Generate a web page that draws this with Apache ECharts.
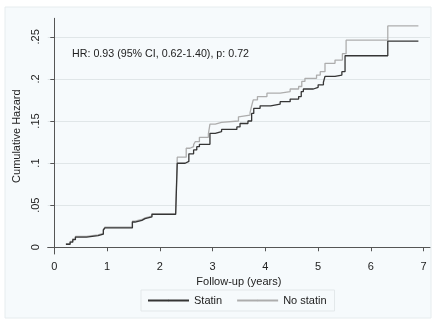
<!DOCTYPE html>
<html>
<head>
<meta charset="utf-8">
<script src="https://cdn.jsdelivr.net/npm/echarts@6/dist/echarts.min.js"></script>
<style>
  html, body { margin: 0; padding: 0; background: #ffffff; }
  #main { width: 436px; height: 323px; }
</style>
</head>
<body>
<div id="main"></div>
<script>
// 各组累积风险 -- 阶梯数据 [随访年, 累积风险]
const statinSteps = [
  [0.22, 0.0036], [0.30, 0.006], [0.35, 0.009], [0.40, 0.012], [0.61, 0.0138],
  [0.83, 0.0155], [0.93, 0.0205], [0.96, 0.023], [1.48, 0.030], [1.53, 0.032],
  [1.66, 0.034], [1.72, 0.036], [1.85, 0.039], [2.30, 0.041], [2.33, 0.0998],
  [2.48, 0.102], [2.55, 0.111], [2.64, 0.1156], [2.70, 0.1195], [2.75, 0.1223],
  [2.95, 0.1354], [3.05, 0.1373], [3.17, 0.140], [3.46, 0.143], [3.52, 0.147],
  [3.67, 0.150], [3.74, 0.159], [3.78, 0.165], [3.90, 0.168], [4.10, 0.170],
  [4.28, 0.173], [4.47, 0.176], [4.63, 0.179], [4.68, 0.185], [4.72, 0.188],
  [4.91, 0.190], [5.00, 0.193], [5.10, 0.196], [5.13, 0.203], [5.32, 0.2046],
  [5.45, 0.2086], [5.51, 0.2275], [6.32, 0.245], [6.90, 0.245]
];
const noStatinSteps = [
  [0.22, 0.004], [0.30, 0.007], [0.35, 0.010], [0.40, 0.013], [0.61, 0.0148],
  [0.83, 0.0165], [0.93, 0.021], [0.96, 0.024], [1.48, 0.031], [1.53, 0.033],
  [1.66, 0.035], [1.72, 0.037], [1.85, 0.040], [2.30, 0.042], [2.33, 0.107],
  [2.50, 0.1176], [2.57, 0.1195], [2.64, 0.122], [2.67, 0.1254], [2.75, 0.1306],
  [2.92, 0.1346], [2.95, 0.1464], [3.05, 0.1484], [3.17, 0.150], [3.49, 0.155],
  [3.52, 0.157], [3.71, 0.160], [3.74, 0.168], [3.77, 0.175], [3.85, 0.179],
  [4.03, 0.183], [4.28, 0.185], [4.47, 0.188], [4.63, 0.191], [4.69, 0.197],
  [4.75, 0.2007], [4.97, 0.2046], [5.04, 0.2086], [5.13, 0.2185], [5.32, 0.2224],
  [5.46, 0.230], [5.53, 0.246], [6.32, 0.263], [6.90, 0.263]
];
const xTicks = [0, 1, 2, 3, 4, 5, 6, 7];
const yTicks = [0, 0.05, 0.1, 0.15, 0.2, 0.25];
const seriesNames = ['Statin', 'No statin'];
const annotationText = 'HR: 0.93 (95% CI, 0.62-1.40), p: 0.72';

const font = 'Liberation Sans, Arial, sans-serif';
const chart = echarts.init(document.getElementById('main'), null, { renderer: 'canvas' });

// 去掉前导 0 的刻度标签 (Stata 风格)
function fmtY(v) {
  if (Math.abs(v) < 1e-9) return '0';
  return String(+v.toFixed(2)).replace(/^0/, '');
}

const option = {
  animation: false,
  backgroundColor: '#ffffff',
  textStyle: { fontFamily: font },
  graphic: [
    {
      type: 'rect', z: -10, silent: true,
      shape: { x: 5, y: 7, width: 426, height: 311 },
      style: { fill: '#f6fafc', stroke: '#e6ecee', lineWidth: 1 }
    },
    {
      type: 'text', left: 72, top: 49, z: 10,
      style: { text: annotationText, fill: '#222', font: '10.7px ' + font }
    }
  ],
  grid: { left: 47.7, right: 6, top: 18.3, bottom: 69 },
  legend: {
    data: seriesNames,
    bottom: 12,
    left: 141,
    itemWidth: 41,
    itemHeight: 2,
    itemGap: 14,
    padding: [5, 8, 5, 6],
    borderColor: '#e3e8ea',
    borderWidth: 1,
    textStyle: { fontSize: 11, color: '#222', fontFamily: font }
  },
  xAxis: {
    type: 'value',
    min: -0.125,
    max: 7.12,
    name: 'Follow-up (years)',
    nameLocation: 'middle',
    nameGap: 19,
    nameTextStyle: { fontSize: 11, color: '#222' },
    axisLine: { lineStyle: { color: '#555', width: 1 } },
    axisTick: { show: true, length: 4, customValues: xTicks, lineStyle: { color: '#555' } },
    axisLabel: { customValues: xTicks, fontSize: 11, color: '#222', margin: 7 },
    splitLine: { show: false }
  },
  yAxis: {
    type: 'value',
    min: -0.008,
    max: 0.272,
    name: 'Cumulative Hazard',
    nameLocation: 'middle',
    nameGap: 20,
    nameTextStyle: { fontSize: 11, color: '#222' },
    axisLine: { show: true, lineStyle: { color: '#555', width: 1 } },
    axisTick: { show: true, length: 4, customValues: yTicks, lineStyle: { color: '#555' } },
    axisLabel: { customValues: yTicks, fontSize: 11, color: '#222', rotate: 90, margin: 6, formatter: fmtY },
    splitLine: { show: true, lineStyle: { color: '#e0e6e8', width: 1 } }
  },
  series: [
    {
      name: seriesNames[0],
      type: 'line',
      step: 'end',
      symbol: 'none',
      data: statinSteps,
      z: 3,
      lineStyle: { color: '#353535', width: 1.3 },
      itemStyle: { color: '#353535' }
    },
    {
      name: seriesNames[1],
      type: 'line',
      step: 'end',
      symbol: 'none',
      data: noStatinSteps,
      z: 2,
      lineStyle: { color: '#adadad', width: 1.3 },
      itemStyle: { color: '#adadad' }
    }
  ]
};
chart.setOption(option);
</script>
</body>
</html>
